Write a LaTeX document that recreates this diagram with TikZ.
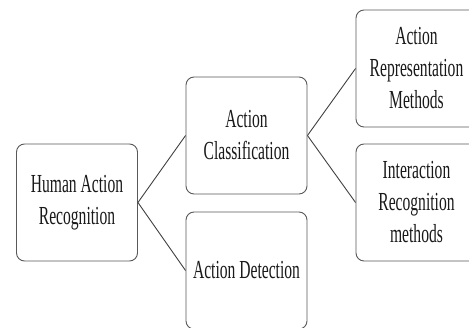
\documentclass[tikz,border=0pt]{standalone}
\usepackage{fontspec}
\setmainfont[FakeStretch=0.6]{Liberation Serif}
\begin{document}
\begin{tikzpicture}[x=1pt,y=-1pt,
  box/.style={draw=black!65, line width=0.9pt, rounded corners=8pt, fill=white,
    minimum width=121pt, minimum height=117pt, inner sep=0pt, align=center,
    font=\fontsize{26}{32}\selectfont, text=black!90},
  link/.style={draw=black!75, line width=0.9pt}]
\useasboundingbox (0,0) rectangle (469,327);
\clip (0,0) rectangle (469,327);
\node[box] (har) at (77,202.5) {Human Action\\Recognition};
\node[box] (ac) at (246.5,135.5) {Action\\Classification};
\node[box] (ad) at (246.5,270.5) {Action Detection};
\node[box] (arm) at (416.5,68.5) {Action\\Representation\\Methods};
\node[box] (irm) at (416.5,202.5) {Interaction\\Recognition\\methods};
\draw[link] (har.east) -- (ac.west);
\draw[link] (har.east) -- (ad.west);
\draw[link] (ac.east) -- (arm.west);
\draw[link] (ac.east) -- (irm.west);
\end{tikzpicture}
\end{document}
